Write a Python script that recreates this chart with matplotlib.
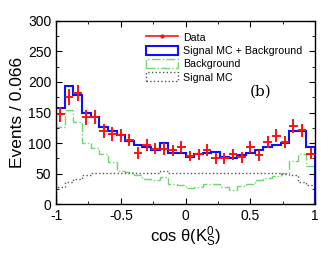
import numpy as np
import matplotlib
matplotlib.use('Agg')
import matplotlib.pyplot as plt
from matplotlib.lines import Line2D
from matplotlib.patches import Patch
from matplotlib.ticker import MultipleLocator

plt.rcParams['font.family'] = ['Liberation Sans', 'DejaVu Sans']
plt.rcParams['mathtext.fontset'] = 'custom'
plt.rcParams['mathtext.rm'] = 'Liberation Sans'
plt.rcParams['mathtext.it'] = 'Liberation Sans'

# 30 bins over cos(theta) in [-1, 1]
edges = np.linspace(-1, 1, 31)

data = [147, 176, 182, 142, 143, 120, 115, 113, 105, 84,
        97, 91, 90, 88, 94, 79, 82, 89, 75, 75,
        82, 77, 94, 80, 102, 112, 102, 128, 121, 83]

sig_plus_bkg = [158, 193, 179, 149, 143, 127, 120, 113, 104, 97,
                94, 89, 100, 84, 84, 78, 82, 84, 86, 78,
                75, 80, 84, 89, 94, 97, 100, 120, 120, 94]

background = [127, 154, 135, 100, 92, 83, 69, 55, 53, 48,
              42, 40, 44, 34, 32, 26, 29, 33, 33, 29,
              23, 30, 33, 40, 43, 46, 51, 70, 83, 63]

signal_mc = [29, 37, 42, 48, 51, 51, 52, 52, 52, 51,
             51, 51, 54, 52, 52, 52, 52, 51, 51, 51,
             51, 52, 51, 51, 51, 51, 50, 48, 37, 32]

centers = 0.5 * (edges[:-1] + edges[1:])
half_w = 0.5 * (edges[1] - edges[0])

fig = plt.figure(figsize=(3.32, 2.57), dpi=100)
ax = fig.add_axes([0.169, 0.205, 0.78, 0.714])

ax.stairs(background, edges, color='#6fd66f', linestyle='-.', linewidth=1.0, baseline=0)
ax.stairs(signal_mc, edges, color='#555555', linestyle=':', linewidth=1.0, baseline=0)
ax.stairs(sig_plus_bkg, edges, color='#1010ff', linewidth=1.5, baseline=0)
ax.errorbar(centers, data, xerr=half_w, yerr=np.sqrt(data), fmt='none',
            ecolor='#ff1010', elinewidth=1.4, capsize=0)

ax.set_xlim(-1, 1)
ax.set_ylim(0, 300)
ax.xaxis.set_major_locator(MultipleLocator(0.5))
ax.xaxis.set_minor_locator(MultipleLocator(0.25))
ax.yaxis.set_major_locator(MultipleLocator(50))
ax.yaxis.set_minor_locator(MultipleLocator(25))
ax.xaxis.set_major_formatter(matplotlib.ticker.FuncFormatter(lambda v, p: '%g' % v))
ax.tick_params(which='both', direction='in', top=True, right=True, labelsize=10)
ax.tick_params(which='major', length=4)
ax.tick_params(which='minor', length=2.5)
for s in ax.spines.values():
    s.set_linewidth(1.0)
    s.set_zorder(5)

ax.set_ylabel('Events / 0.066', fontsize=12.5, labelpad=2)
ax.set_xlabel(r'cos $\theta$(K$_S^0$)', fontsize=12, labelpad=1)

handles = [
    Line2D([], [], color='#ff1010', marker='.', markersize=4, linewidth=1.2),
    Patch(facecolor='none', edgecolor='#1010ff', linewidth=1.5),
    Patch(facecolor='none', edgecolor='#6fd66f', linestyle='-.', linewidth=1.0),
    Patch(facecolor='none', edgecolor='#555555', linestyle=':', linewidth=1.0),
]
labels = ['Data', 'Signal MC + Background', 'Background', 'Signal MC']
ax.legend(handles, labels, loc='upper left', bbox_to_anchor=(0.33, 0.96),
          frameon=False, fontsize=7.7, handlelength=3.0, handleheight=0.9,
          labelspacing=0.3, handletextpad=0.5, borderaxespad=0)

ax.text(0.58, 185, '(b)', fontsize=11, family='DejaVu Serif', va='center', ha='center')

fig.savefig('out.png', dpi=100)
